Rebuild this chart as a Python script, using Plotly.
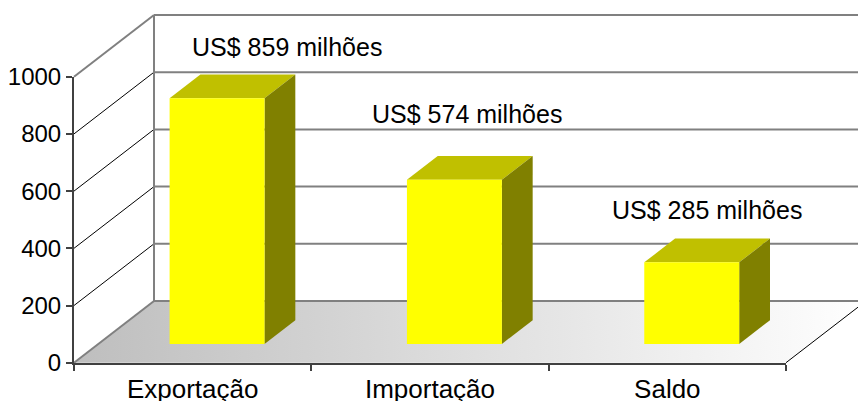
import plotly.graph_objects as go

categories = ["Exportação", "Importação", "Saldo"]
values = [859, 574, 285]
y_ticks = [0, 200, 400, 600, 800, 1000]

W, H = 858, 401
X0, X1, Y0, Y1 = 74, 786, 362.7, 76.7   # plot box in px
CATW = (X1 - X0) / 3
PXV = (Y0 - Y1) / 1000
DX = 80 / CATW
DY = 61.7 / PXV
BAR_W = 0.4
D_FRONT, D_BACK = 0.305, 0.69
FONT = "Liberation Sans, Arial, sans-serif"
GRAY = "#808080"
DARK = "#404040"


def proj(c, v, d):
    return c + d * DX, v + d * DY


def poly(points, **kw):
    xy = [proj(*p) for p in points]
    return go.Scatter(x=[a for a, _ in xy], y=[b for _, b in xy], mode="lines",
                      hoverinfo="skip", showlegend=False, xaxis="x", yaxis="y", **kw)


def face(points, color):
    return poly(points + points[:1], fill="toself", fillcolor=color, line=dict(width=0))


fig = go.Figure()

# floor
fig.add_trace(poly([(-0.5, 0, 0), (2.5, 0, 0), (2.5, 0, 1), (-0.5, 0, 1), (-0.5, 0, 0)],
                   fill="toself", line=dict(width=0),
                   fillgradient=dict(type="horizontal",
                                     colorscale=[[0, "#BEBEBE"], [1, "#FFFFFF"]])))

# walls and grid
for t in y_ticks:
    fig.add_trace(poly([(-0.5, t, 1), (2.5, t, 1)], line=dict(color=GRAY, width=2)))
    edge = t in (y_ticks[0], y_ticks[-1])
    fig.add_trace(poly([(-0.5, t, 0), (-0.5, t, 1)],
                       line=dict(color=GRAY if edge else "#000000", width=2 if edge else 1)))
fig.add_trace(poly([(-0.5, 0, 1), (-0.5, 1000, 1)], line=dict(color=GRAY, width=2)))
fig.add_trace(poly([(2.5, 0, 0), (2.5, 0, 1)], line=dict(color="#000000", width=1)))

# bars
for i, v in enumerate(values):
    l, r = i - 0.5 * BAR_W, i + 0.5 * BAR_W
    f, b = D_FRONT, D_BACK
    fig.add_trace(face([(l, v, f), (r, v, f), (r, v, b), (l, v, b)], "#C0C000"))
    fig.add_trace(face([(r, 0, f), (r, 0, b), (r, v, b), (r, v, f)], "#808000"))
    fig.add_trace(face([(l, 0, f), (r, 0, f), (r, v, f), (l, v, f)], "#FFFF00"))

# real axes with ticks (own subplot, box in px)
fig.add_trace(go.Scatter(x=categories, y=values, mode="markers", marker=dict(opacity=0),
                         hoverinfo="skip", showlegend=False, xaxis="x2", yaxis="y2"))

label_pos = [(287, 47), (467, 114), (707, 210)]
for v, (px, py) in zip(values, label_pos):
    fig.add_annotation(text=f"US$ {v} milhões", xref="paper", yref="paper",
                       x=px / W, y=1 - py / H, showarrow=False, xanchor="center", yanchor="middle",
                       font=dict(family=FONT, size=25, color="#000000"))

fig.update_layout(
    template="none",
    width=W, height=H, margin=dict(l=0, r=0, t=0, b=0, pad=0), autosize=False,
    paper_bgcolor="white", plot_bgcolor="rgba(0,0,0,0)", showlegend=False,
    font=dict(family=FONT, color="#000000"),
    xaxis=dict(domain=[0, 1], visible=False, fixedrange=True, automargin=False,
               range=[-0.5 - X0 / CATW, -0.5 + (W - X0) / CATW]),
    yaxis=dict(domain=[0, 1], visible=False, fixedrange=True, automargin=False,
               range=[(Y0 - H) / PXV, Y0 / PXV]),
    xaxis2=dict(domain=[X0 / W, X1 / W], anchor="y2", type="category", automargin=False,
                range=[-0.5, 2.5], tickson="boundaries", ticks="outside", ticklen=6,
                ticklabelstandoff=2,
                tickwidth=1.5, tickcolor=DARK, showline=True, linecolor=DARK, linewidth=2,
                showgrid=False, zeroline=False, fixedrange=True, tickangle=0,
                tickfont=dict(size=26, family=FONT, color="#000000")),
    yaxis2=dict(domain=[1 - Y0 / H, 1 - Y1 / H], anchor="x2", range=[0, 1000], automargin=False,
                tickvals=y_ticks, ticks="outside", ticklen=6, tickwidth=1.5, tickcolor=DARK,
                showline=True, linecolor=DARK, linewidth=2, showgrid=False, zeroline=False,
                fixedrange=True, tickfont=dict(size=24, family=FONT, color="#000000")),
)

fig.write_html("out.html", config={"displayModeBar": False},
               post_script="document.body.style.margin='0';document.documentElement.style.overflow='hidden';")
